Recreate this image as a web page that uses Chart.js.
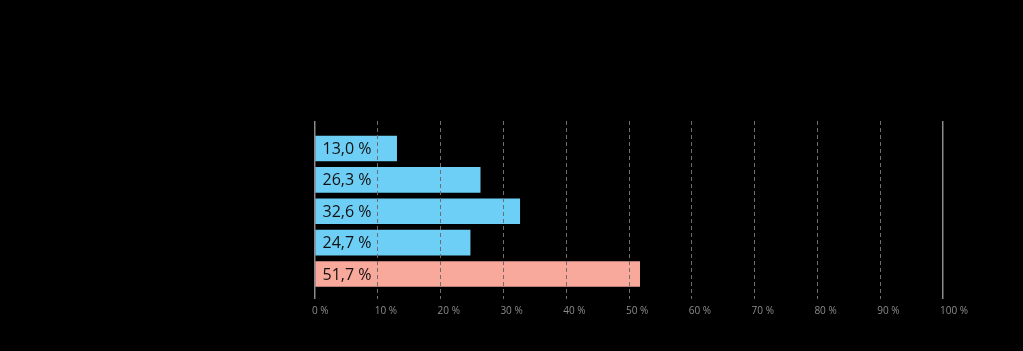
<!DOCTYPE html>
<html>
<head>
<meta charset="utf-8">
<script src="https://cdn.jsdelivr.net/npm/chart.js@4/dist/chart.umd.min.js"></script>
<style>
  html, body { margin: 0; padding: 0; background: #000; }
  #wrap { width: 1023px; height: 351px; position: relative; }
</style>
</head>
<body>
<div id="wrap"><canvas id="c"></canvas></div>
<script>
const categories = ['A', 'B', 'C', 'D', 'E'];
const values = [13.0, 26.3, 32.6, 24.7, 51.7];
const valueLabels = ['13,0 %', '26,3 %', '32,6 %', '24,7 %', '51,7 %'];
const barColors = ['#6dcff6', '#6dcff6', '#6dcff6', '#6dcff6', '#f9a99b'];
const tickValues = [0, 10, 20, 30, 40, 50, 60, 70, 80, 90, 100];

const points = values.map((v, i) => ({ x: v, y: i }));

const labelPlugin = {
  id: 'barLabels',
  afterDatasetsDraw(chart) {
    const ctx = chart.ctx;
    const meta = chart.getDatasetMeta(0);
    ctx.save();
    ctx.font = '16px "Open Sans", sans-serif';
    ctx.fillStyle = '#111';
    ctx.textBaseline = 'middle';
    ctx.textAlign = 'left';
    meta.data.forEach((bar, i) => {
      ctx.fillText(valueLabels[i], bar.base + 7, bar.y + 1);
    });
    ctx.restore();
  }
};

new Chart(document.getElementById('c'), {
  type: 'bar',
  data: {
    datasets: [{
      data: points,
      backgroundColor: barColors,
      borderWidth: 0,
      barThickness: 25
    }]
  },
  plugins: [labelPlugin],
  options: {
    indexAxis: 'y',
    responsive: true,
    maintainAspectRatio: false,
    animation: false,
    layout: { padding: { left: 315, right: 80, top: 121, bottom: 22 } },
    plugins: { legend: { display: false }, tooltip: { enabled: false } },
    scales: {
      y: {
        type: 'linear',
        reverse: true,
        offset: false,
        min: -0.876,
        max: 4.797,
        display: false
      },
      x: {
        type: 'linear',
        min: 0,
        max: 100,
        afterBuildTicks: (s) => { s.ticks = tickValues.map(v => ({ value: v })); },
        afterFit: (s) => { s.height = 30; },
        grid: {
          z: 1,
          drawTicks: false,
          color: (c) => (c.tick && (c.tick.value === 0 || c.tick.value === 100)) ? 'rgba(0,0,0,0)' : '#6e6e6e',
          lineWidth: 1
        },
        border: { display: false, dash: [4, 3] },
        ticks: {
          padding: 6,
          align: 'start',
          labelOffset: -3,
          color: '#8c8c8c',
          font: { family: '"Open Sans", sans-serif', size: 10 },
          callback: (v) => v + ' %'
        }
      },
      x2: {
        type: 'linear',
        position: 'bottom',
        min: 0,
        max: 100,
        afterBuildTicks: (s) => { s.ticks = [{ value: 0 }, { value: 100 }]; },
        afterFit: (s) => { s.height = 0; },
        grid: { z: 1, drawTicks: false, color: '#8a8a8a', lineWidth: 1.5 },
        border: { display: false },
        ticks: { display: false }
      }
    }
  }
});
</script>
</body>
</html>
